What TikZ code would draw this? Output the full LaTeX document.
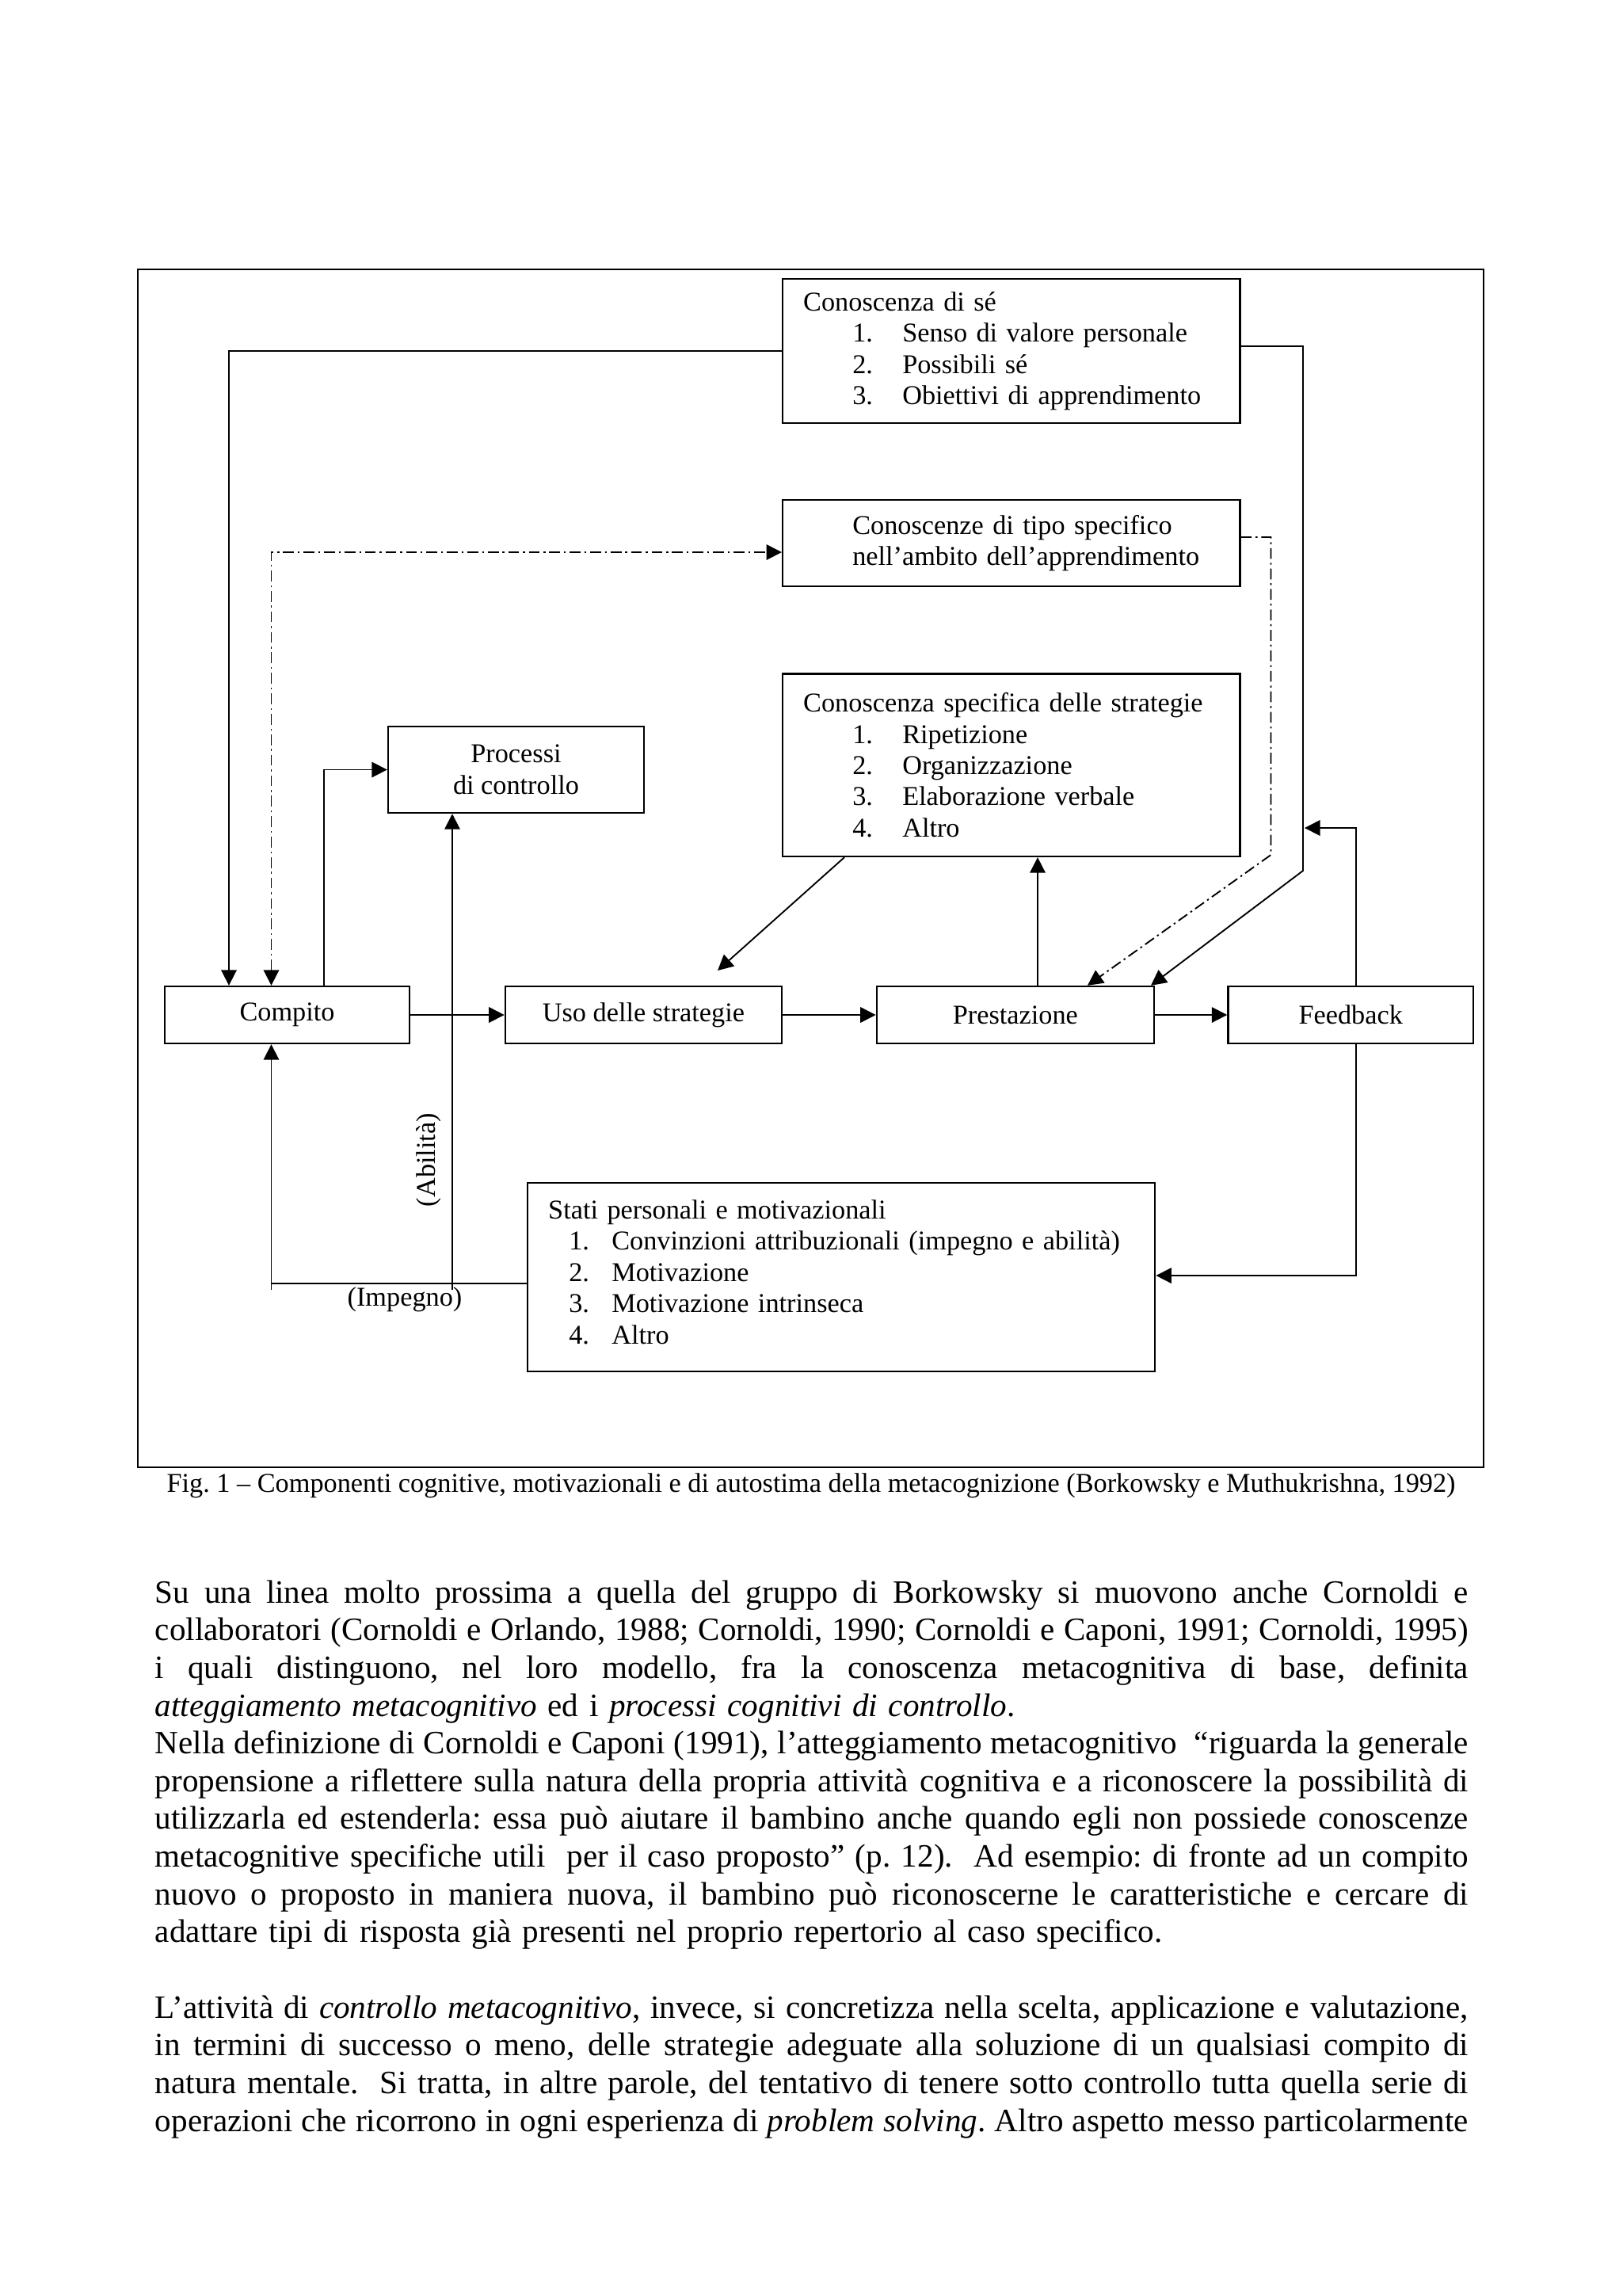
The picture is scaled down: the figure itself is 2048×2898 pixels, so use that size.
\documentclass[tikz,border=0pt]{standalone}
\usepackage{fontspec}
\setmainfont{Liberation Serif}
\usetikzlibrary{arrows.meta,positioning}
\frenchspacing
\newcommand{\riga}[1]{\par\noindent\hbox to 170mm{\spaceskip=0.25em plus 1em minus 0.1em\relax\strut #1}}
\newcommand{\rigafine}[1]{\par\noindent\strut #1}
\newcommand{\voce}[1]{\hspace*{6.36mm}\makebox[6.46mm][l]{#1}}
\newcommand{\vocet}[1]{\hspace*{2.67mm}\makebox[5.54mm][l]{#1}}

\begin{document}
\begin{tikzpicture}[x=0.10254mm, y=-0.10254mm, line width=0.55pt,
    >={Triangle[length=2mm,width=2mm]},
    main/.style = {draw, rectangle, line width=0.7pt, inner sep=0pt, font=\fontsize{10}{11.5}\selectfont},
    lista/.style = {main, align=left, inner xsep=2.67mm},
    dd/.style = {dash pattern=on 1.4mm off 0.5mm on 0.25mm off 0.5mm},
    testo/.style = {anchor=north west, inner sep=0pt, text width=170mm, font=\fontsize{12}{13.9}\selectfont}]
    \useasboundingbox (0,0) rectangle (2048,2898);
    \draw[line width=0.5pt] (174,340) rectangle (1873,1852);

    \node[lista, anchor=north west, minimum width=59.17mm, minimum height=18.66mm, text width=53.84mm] (5) at (987,351)
        {Conoscenza di sé\\ \voce{1.}Senso di valore personale\\ \voce{2.}Possibili sé\\ \voce{3.}Obiettivi di apprendimento};
    \node[lista, below=9.7mm of 5, minimum width=59.17mm, minimum height=11.18mm, text width=53.84mm] (6)
        {\hspace*{6.36mm}Conoscenze di tipo specifico\\ \hspace*{6.36mm}nell’ambito dell’apprendimento};
    \node[lista, below=11.05mm of 6, minimum width=59.17mm, minimum height=23.64mm, text width=53.84mm] (7)
        {Conoscenza specifica delle strategie\\ \voce{1.}Ripetizione\\ \voce{2.}Organizzazione\\ \voce{3.}Elaborazione verbale\\ \voce{4.}Altro};
    \node[main, align=center, minimum width=33.12mm, minimum height=11.18mm] (8) at (651.5,971.5) {Processi\\di controllo};

    \node[main, minimum width=31.69mm, minimum height=7.38mm] (1) at (362.5,1281) {Compito};
    \node[main, right=12.15mm of 1, minimum width=35.79mm, minimum height=7.38mm] (2) {Uso delle strategie};
    \node[main, right=12.05mm of 2, minimum width=35.89mm, minimum height=7.38mm] (3) {Prestazione};
    \node[main, right=9.35mm of 3, minimum width=31.74mm, minimum height=7.38mm] (4) {Feedback};

    \node[lista, anchor=north west, minimum width=81.21mm, minimum height=24.4mm, text width=75.87mm] (9) at (665,1492)
        {Stati personali e motivazionali\\ \vocet{1.}Convinzioni attribuzionali (impegno e abilità)\\ \vocet{2.}Motivazione\\ \vocet{3.}Motivazione intrinseca\\ \vocet{4.}Altro\rule[-1.4mm]{0pt}{1mm}};

    \node[rotate=90, inner sep=0pt, font=\fontsize{10}{11.5}\selectfont] (10) at (541,1464) {(Abilità)};
    \node[inner sep=0pt, font=\fontsize{10}{11.5}\selectfont] (11) at (511,1640) {(Impegno)};

    \coordinate (c1) at (289,0);
    \coordinate (c2) at (342.5,697);
    \coordinate (c3) at (409,0);
    \coordinate (c4) at (571,1628);
    \coordinate (c5) at (342.5,1620);
    \coordinate (c6) at (1066,0);
    \coordinate (c7) at (906,1225);
    \coordinate (c8) at (1310,0);
    \coordinate (c9) at (1645,437);
    \coordinate (c10) at (1645,1099);
    \coordinate (c11) at (1453,0);
    \coordinate (c12) at (1604.5,678);
    \coordinate (c13) at (1604.5,1079);
    \coordinate (c14) at (1373,0);
    \coordinate (c15) at (1712,1045);
    \coordinate (c16) at (1647,1045);
    \coordinate (c17) at (1712,1610);

    \draw[->] (5.west) -| (1.north -| c1);
    \draw[<->, dd] (1.north -| c2) -- (c2) -- (c2 -| 6.west);
    \draw[->] (1.north -| c3) |- (8.west);
    \draw[->] (c5 |- c4) -- (1.south -| c5);
    \draw (9.west |- c5) -- (c5);
    \draw[->] (c4) -- (8.south -| c4);
    \draw[->] (1) to (2);
    \draw[->] (2) to (3);
    \draw[->] (3) to (4);
    \draw[->] (3.north -| c8) -- (7.south -| c8);
    \draw[->] (7.south -| c6) -- (c7);
    \draw[->] (5.east |- c9) -- (c9) -- (c10) -- (3.north -| c11);
    \draw[->, dd] (6.east |- c12) -- (c12) -- (c13) -- (3.north -| c14);
    \draw[->] (4.north -| c15) -- (c15) -- (c16);
    \draw[->] (4.south -| c17) -- (c17) -- (c17 -| 9.east);

    \node[font=\fontsize{10}{11.5}\selectfont] (12) at (1024,1875)
        {Fig. 1 – Componenti cognitive, motivazionali e di autostima della metacognizione (Borkowsky e Muthukrishna, 1992)};

    \node[testo] (13) at (195,1974.5) {%
        \riga{Su una linea molto prossima a quella del gruppo di Borkowsky si muovono anche Cornoldi e}
        \riga{collaboratori (Cornoldi e Orlando, 1988; Cornoldi, 1990; Cornoldi e Caponi, 1991; Cornoldi, 1995)}
        \riga{i quali distinguono, nel loro modello, fra la conoscenza metacognitiva di base, definita}
        \rigafine{\textit{atteggiamento metacognitivo} ed i \textit{processi cognitivi di controllo}.}
        \riga{Nella definizione di Cornoldi e Caponi (1991), l’atteggiamento metacognitivo \ “riguarda la generale}
        \riga{propensione a riflettere sulla natura della propria attività cognitiva e a riconoscere la possibilità di}
        \riga{utilizzarla ed estenderla: essa può aiutare il bambino anche quando egli non possiede conoscenze}
        \riga{metacognitive specifiche utili \ per il caso proposto” (p. 12). \ Ad esempio: di fronte ad un compito}
        \riga{nuovo o proposto in maniera nuova, il bambino può riconoscerne le caratteristiche e cercare di}
        \rigafine{adattare tipi di risposta già presenti nel proprio repertorio al caso specifico.}};
    \node[testo] (14) at (195,2498.5) {%
        \riga{L’attività di \textit{controllo metacognitivo}, invece, si concretizza nella scelta, applicazione e valutazione,}
        \riga{in termini di successo o meno, delle strategie adeguate alla soluzione di un qualsiasi compito di}
        \riga{natura mentale. \ Si tratta, in altre parole, del tentativo di tenere sotto controllo tutta quella serie di}
        \riga{operazioni che ricorrono in ogni esperienza di \textit{problem solving}. Altro aspetto messo particolarmente}};
\end{tikzpicture}
\end{document}
